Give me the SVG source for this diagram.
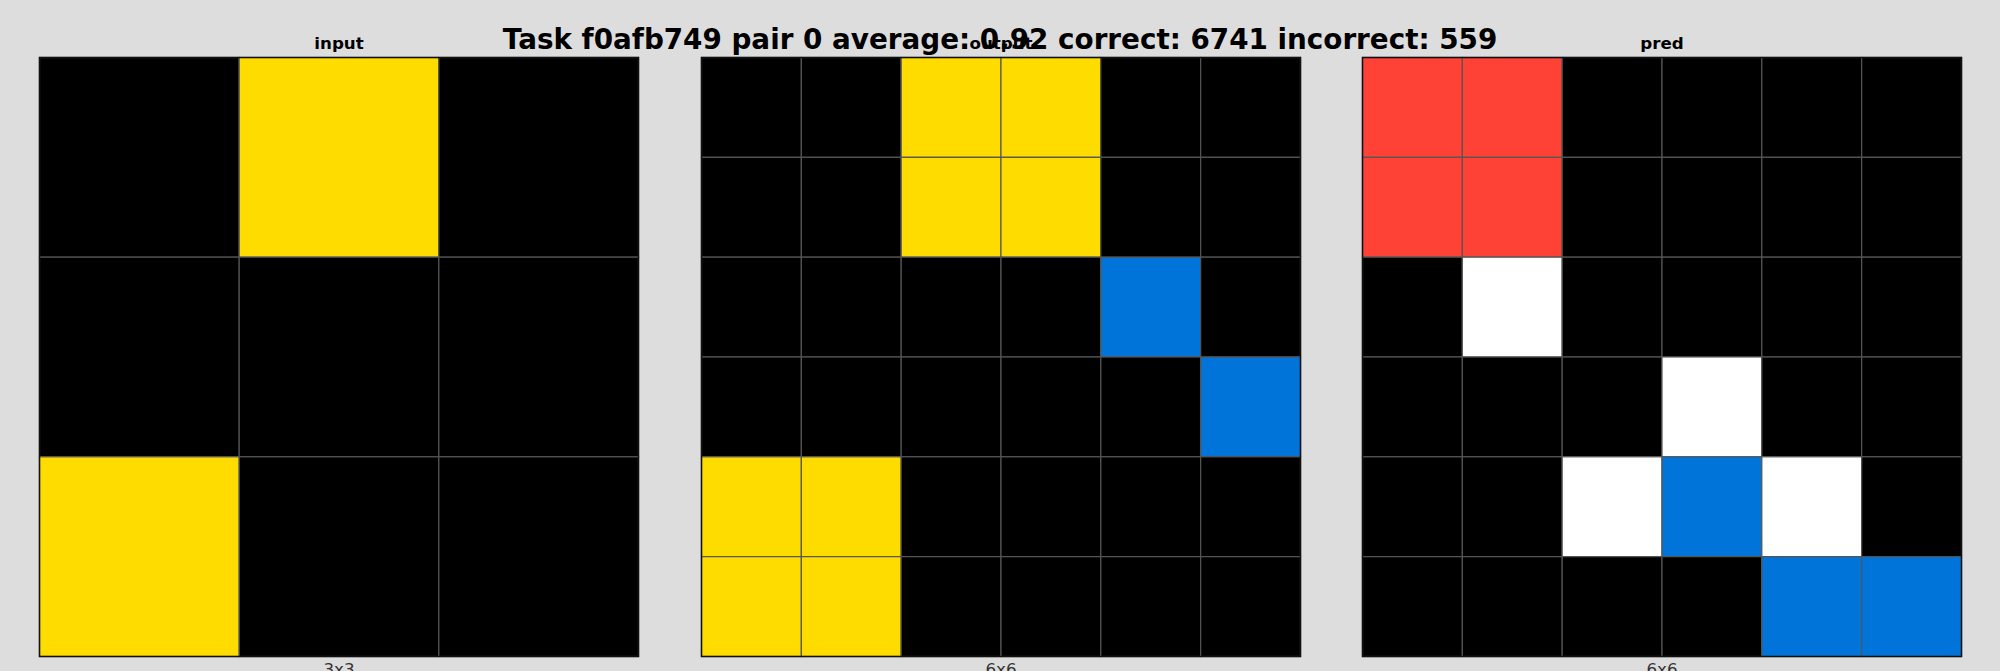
<svg xmlns="http://www.w3.org/2000/svg" width="2000" height="671" viewBox="0 0 2000 671">
<style>
.t{font-family:"DejaVu Sans",sans-serif;font-weight:bold;fill:#000}
.lbl{font-family:"DejaVu Sans",sans-serif;font-weight:bold;font-size:16.7px;text-anchor:middle;fill:#000}
.dim{font-family:"DejaVu Sans",sans-serif;font-size:16.7px;text-anchor:middle;fill:#333}
.k{fill:#000000}.y{fill:#FFDC00}.r{fill:#FF4136}.b{fill:#0074D9}.w{fill:#FFFFFF}
.c{stroke:#555;stroke-width:1.2}
.frame{fill:none;stroke:#111;stroke-width:1.5}
</style>
<rect width="2000" height="671" fill="#DDDDDD"/>

<g id="input">
<text class="lbl" x="339" y="49">input</text>
<g class="c">
<rect class="k" x="39.5" y="57.5" width="199.67" height="199.67"/>
<rect class="y" x="239.17" y="57.5" width="199.67" height="199.67"/>
<rect class="k" x="438.83" y="57.5" width="199.67" height="199.67"/>
<rect class="k" x="39.5" y="257.17" width="199.67" height="199.67"/>
<rect class="k" x="239.17" y="257.17" width="199.67" height="199.67"/>
<rect class="k" x="438.83" y="257.17" width="199.67" height="199.67"/>
<rect class="y" x="39.5" y="456.83" width="199.67" height="199.67"/>
<rect class="k" x="239.17" y="456.83" width="199.67" height="199.67"/>
<rect class="k" x="438.83" y="456.83" width="199.67" height="199.67"/>
</g>
<rect class="frame" x="39.5" y="57.5" width="599" height="599"/>
<text class="dim" x="339" y="675">3x3</text>
</g>

<g id="output">
<text class="lbl" x="1001" y="49">output</text>
<g class="c">
<rect class="k" x="701.5" y="57.5" width="99.83" height="99.83"/>
<rect class="k" x="801.33" y="57.5" width="99.83" height="99.83"/>
<rect class="y" x="901.17" y="57.5" width="99.83" height="99.83"/>
<rect class="y" x="1001" y="57.5" width="99.83" height="99.83"/>
<rect class="k" x="1100.83" y="57.5" width="99.83" height="99.83"/>
<rect class="k" x="1200.67" y="57.5" width="99.83" height="99.83"/>

<rect class="k" x="701.5" y="157.33" width="99.83" height="99.83"/>
<rect class="k" x="801.33" y="157.33" width="99.83" height="99.83"/>
<rect class="y" x="901.17" y="157.33" width="99.83" height="99.83"/>
<rect class="y" x="1001" y="157.33" width="99.83" height="99.83"/>
<rect class="k" x="1100.83" y="157.33" width="99.83" height="99.83"/>
<rect class="k" x="1200.67" y="157.33" width="99.83" height="99.83"/>

<rect class="k" x="701.5" y="257.17" width="99.83" height="99.83"/>
<rect class="k" x="801.33" y="257.17" width="99.83" height="99.83"/>
<rect class="k" x="901.17" y="257.17" width="99.83" height="99.83"/>
<rect class="k" x="1001" y="257.17" width="99.83" height="99.83"/>
<rect class="b" x="1100.83" y="257.17" width="99.83" height="99.83"/>
<rect class="k" x="1200.67" y="257.17" width="99.83" height="99.83"/>

<rect class="k" x="701.5" y="357" width="99.83" height="99.83"/>
<rect class="k" x="801.33" y="357" width="99.83" height="99.83"/>
<rect class="k" x="901.17" y="357" width="99.83" height="99.83"/>
<rect class="k" x="1001" y="357" width="99.83" height="99.83"/>
<rect class="k" x="1100.83" y="357" width="99.83" height="99.83"/>
<rect class="b" x="1200.67" y="357" width="99.83" height="99.83"/>

<rect class="y" x="701.5" y="456.83" width="99.83" height="99.83"/>
<rect class="y" x="801.33" y="456.83" width="99.83" height="99.83"/>
<rect class="k" x="901.17" y="456.83" width="99.83" height="99.83"/>
<rect class="k" x="1001" y="456.83" width="99.83" height="99.83"/>
<rect class="k" x="1100.83" y="456.83" width="99.83" height="99.83"/>
<rect class="k" x="1200.67" y="456.83" width="99.83" height="99.83"/>

<rect class="y" x="701.5" y="556.67" width="99.83" height="99.83"/>
<rect class="y" x="801.33" y="556.67" width="99.83" height="99.83"/>
<rect class="k" x="901.17" y="556.67" width="99.83" height="99.83"/>
<rect class="k" x="1001" y="556.67" width="99.83" height="99.83"/>
<rect class="k" x="1100.83" y="556.67" width="99.83" height="99.83"/>
<rect class="k" x="1200.67" y="556.67" width="99.83" height="99.83"/>
</g>
<rect class="frame" x="701.5" y="57.5" width="599" height="599"/>
<text class="dim" x="1001" y="675">6x6</text>
</g>

<g id="pred">
<text class="lbl" x="1662" y="49">pred</text>
<g class="c">
<rect class="r" x="1362.5" y="57.5" width="99.83" height="99.83"/>
<rect class="r" x="1462.33" y="57.5" width="99.83" height="99.83"/>
<rect class="k" x="1562.17" y="57.5" width="99.83" height="99.83"/>
<rect class="k" x="1662" y="57.5" width="99.83" height="99.83"/>
<rect class="k" x="1761.83" y="57.5" width="99.83" height="99.83"/>
<rect class="k" x="1861.67" y="57.5" width="99.83" height="99.83"/>

<rect class="r" x="1362.5" y="157.33" width="99.83" height="99.83"/>
<rect class="r" x="1462.33" y="157.33" width="99.83" height="99.83"/>
<rect class="k" x="1562.17" y="157.33" width="99.83" height="99.83"/>
<rect class="k" x="1662" y="157.33" width="99.83" height="99.83"/>
<rect class="k" x="1761.83" y="157.33" width="99.83" height="99.83"/>
<rect class="k" x="1861.67" y="157.33" width="99.83" height="99.83"/>

<rect class="k" x="1362.5" y="257.17" width="99.83" height="99.83"/>
<rect class="w" x="1462.33" y="257.17" width="99.83" height="99.83"/>
<rect class="k" x="1562.17" y="257.17" width="99.83" height="99.83"/>
<rect class="k" x="1662" y="257.17" width="99.83" height="99.83"/>
<rect class="k" x="1761.83" y="257.17" width="99.83" height="99.83"/>
<rect class="k" x="1861.67" y="257.17" width="99.83" height="99.83"/>

<rect class="k" x="1362.5" y="357" width="99.83" height="99.83"/>
<rect class="k" x="1462.33" y="357" width="99.83" height="99.83"/>
<rect class="k" x="1562.17" y="357" width="99.83" height="99.83"/>
<rect class="w" x="1662" y="357" width="99.83" height="99.83"/>
<rect class="k" x="1761.83" y="357" width="99.83" height="99.83"/>
<rect class="k" x="1861.67" y="357" width="99.83" height="99.83"/>

<rect class="k" x="1362.5" y="456.83" width="99.83" height="99.83"/>
<rect class="k" x="1462.33" y="456.83" width="99.83" height="99.83"/>
<rect class="w" x="1562.17" y="456.83" width="99.83" height="99.83"/>
<rect class="b" x="1662" y="456.83" width="99.83" height="99.83"/>
<rect class="w" x="1761.83" y="456.83" width="99.83" height="99.83"/>
<rect class="k" x="1861.67" y="456.83" width="99.83" height="99.83"/>

<rect class="k" x="1362.5" y="556.67" width="99.83" height="99.83"/>
<rect class="k" x="1462.33" y="556.67" width="99.83" height="99.83"/>
<rect class="k" x="1562.17" y="556.67" width="99.83" height="99.83"/>
<rect class="k" x="1662" y="556.67" width="99.83" height="99.83"/>
<rect class="b" x="1761.83" y="556.67" width="99.83" height="99.83"/>
<rect class="b" x="1861.67" y="556.67" width="99.83" height="99.83"/>
</g>
<rect class="frame" x="1362.5" y="57.5" width="599" height="599"/>
<text class="dim" x="1662" y="675">6x6</text>
</g>

<text id="title" class="t" x="1000" y="48.5" font-size="27.8" text-anchor="middle">Task f0afb749 pair 0 average: 0.92 correct: 6741 incorrect: 559</text>
</svg>
